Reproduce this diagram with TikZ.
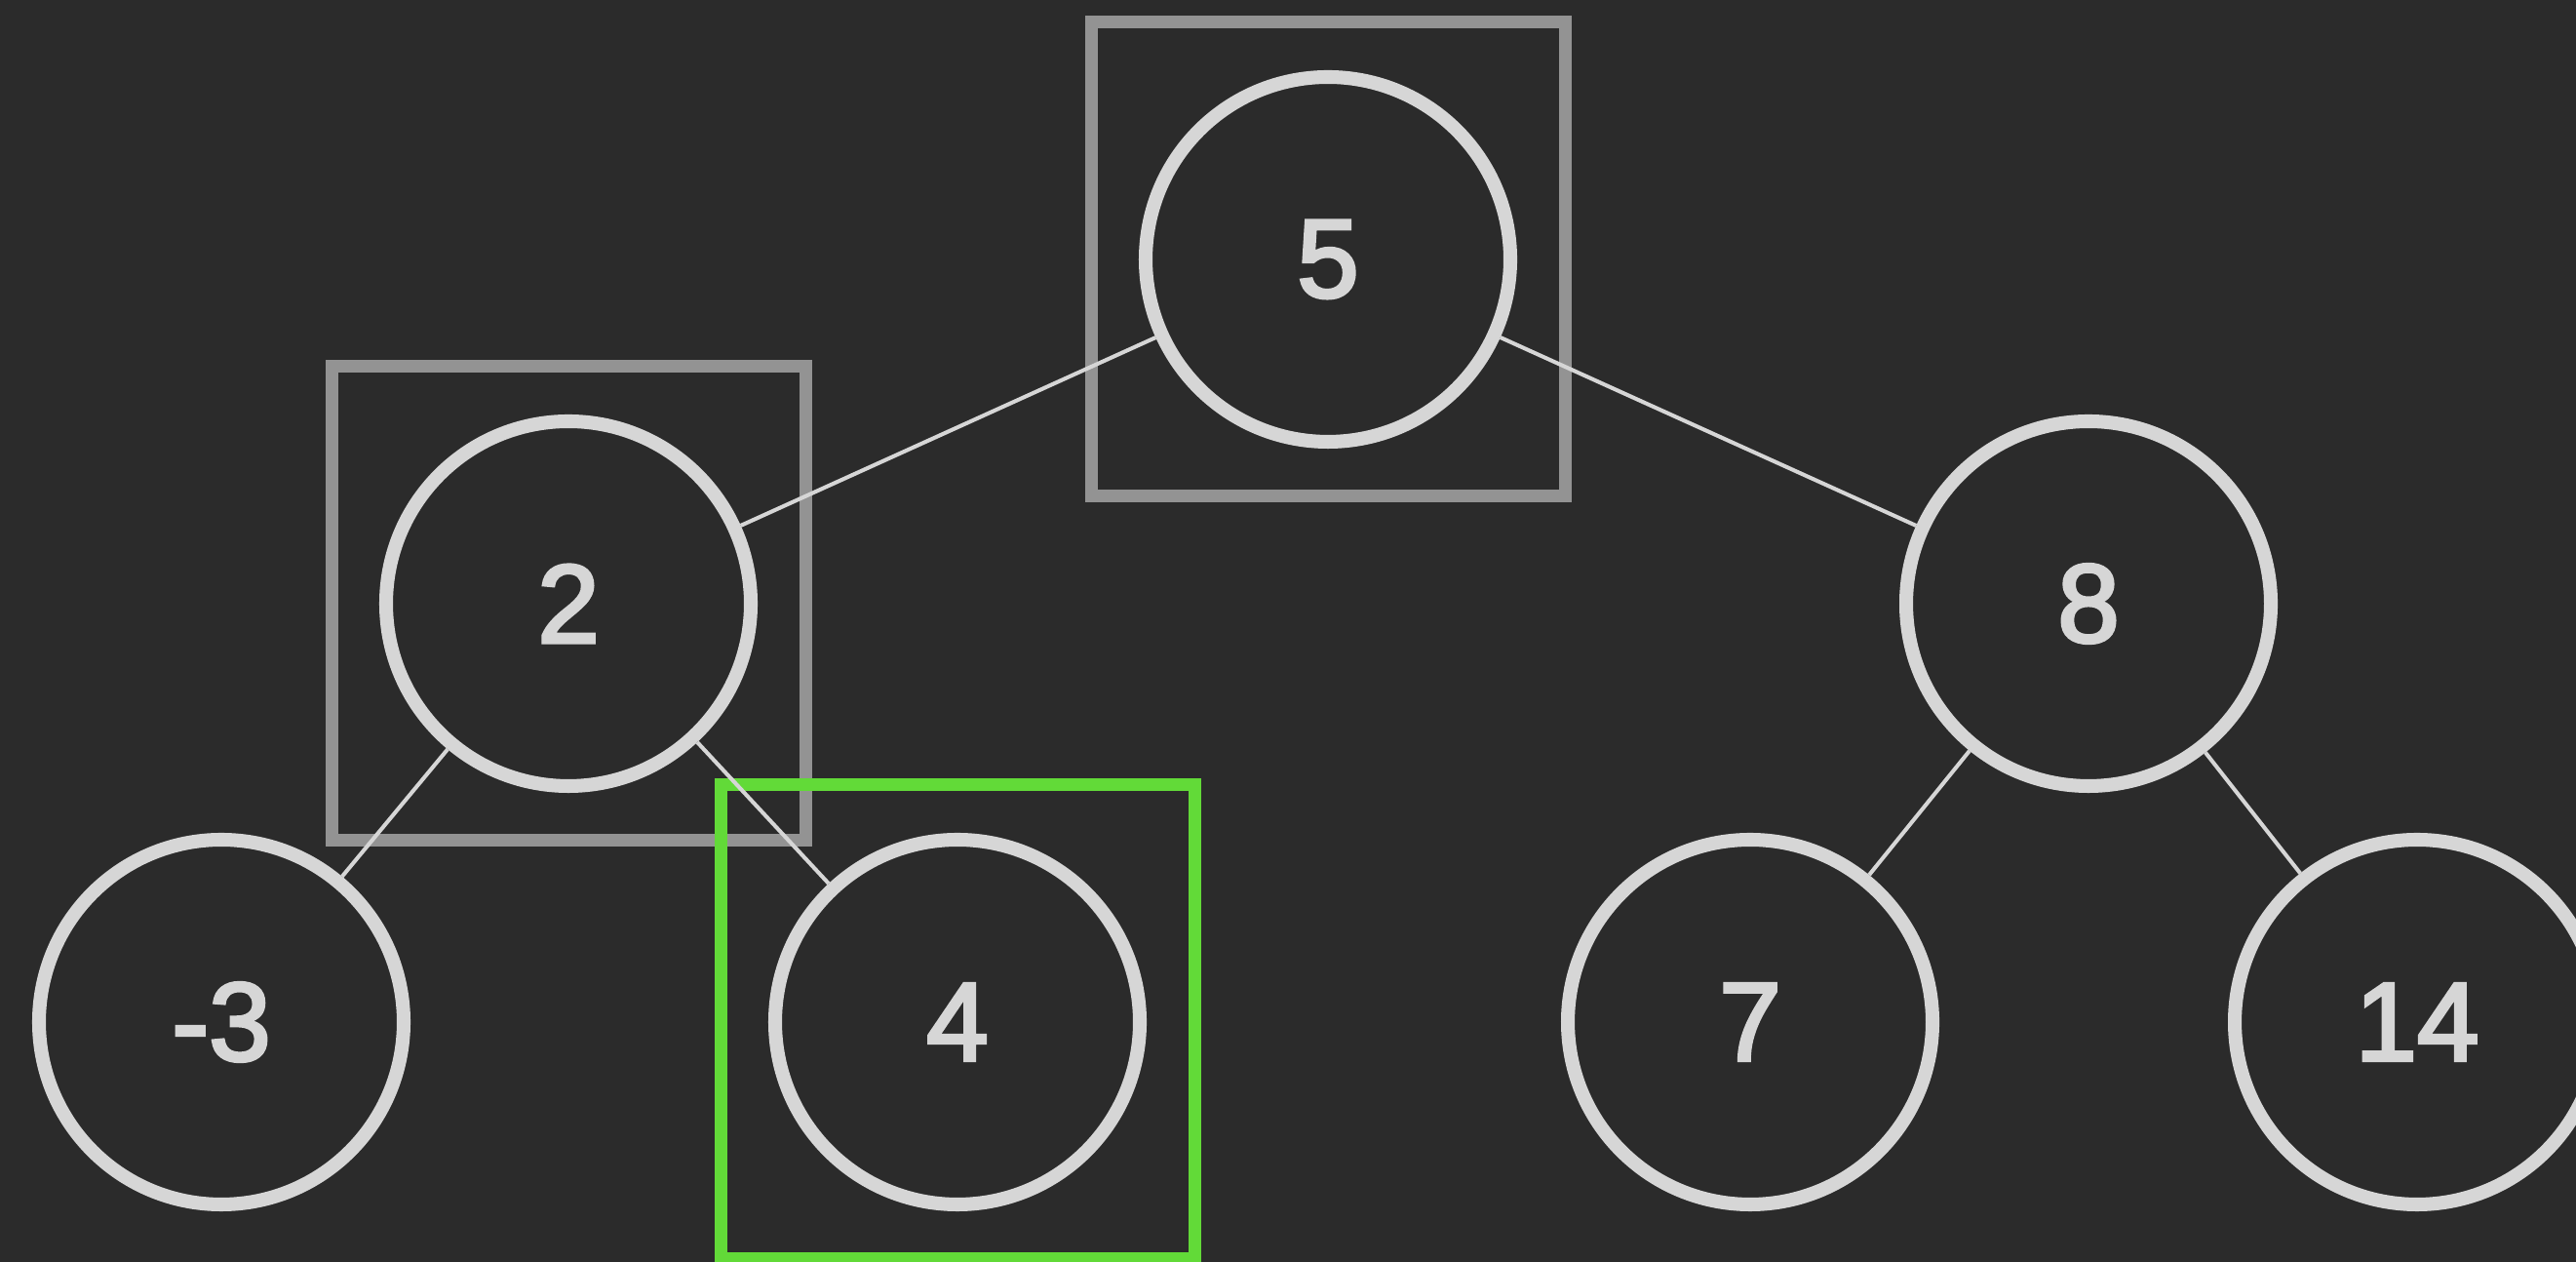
\documentclass[tikz,border=0pt]{standalone}
\usepackage{fontspec}
\newfontfamily\keyfont{Liberation Sans}[RawFeature={embolden=3}]
\definecolor{slate}{HTML}{2B2B2B}
\definecolor{chalk}{HTML}{D6D6D6}
\definecolor{framegray}{HTML}{939393}
\definecolor{foundgreen}{HTML}{62DA38}
\tikzset{
  key/.style={circle, draw=chalk, line width=4pt, minimum size=3.74cm, inner sep=0pt,
    text=chalk, font=\keyfont\fontsize{32.5}{39}\selectfont},
  visited/.style={rectangle, draw=framegray, line width=3.7pt, minimum size=4.86cm, inner sep=0pt},
  found/.style={visited, draw=foundgreen},
  link/.style={draw=chalk, line width=1.15pt},
}
\begin{document}
\begin{tikzpicture}
  \useasboundingbox (0,0) rectangle (26.42,12.94);
  \fill[slate] (0,0) rectangle (26.42,12.94);
  % search path boxes
  \node[visited] (box5) at (13.62,10.28) {};
  \node[visited] (box2) at (5.83,6.75) {};
  \node[found] (box4) at (9.82,2.46) {};
  % keys
  \node[key] (n5) at (13.62,10.28) {5};
  \node[key] (n2) at (5.83,6.75) {2};
  \node[key] (n8) at (21.42,6.75) {8};
  \node[key] (nm3) at (2.27,2.46) {-3};
  \node[key] (n4) at (9.82,2.46) {4};
  \node[key] (n7) at (17.95,2.46) {7};
  \node[key] (n14) at (24.79,2.46) {14};
  % edges
  \draw[link] (n5) -- (n2);
  \draw[link] (n5) -- (n8);
  \draw[link] (n2) -- (nm3);
  \draw[link] (n2) -- (n4);
  \draw[link] (n8) -- (n7);
  \draw[link] (n8) -- (n14);
\end{tikzpicture}
\end{document}
